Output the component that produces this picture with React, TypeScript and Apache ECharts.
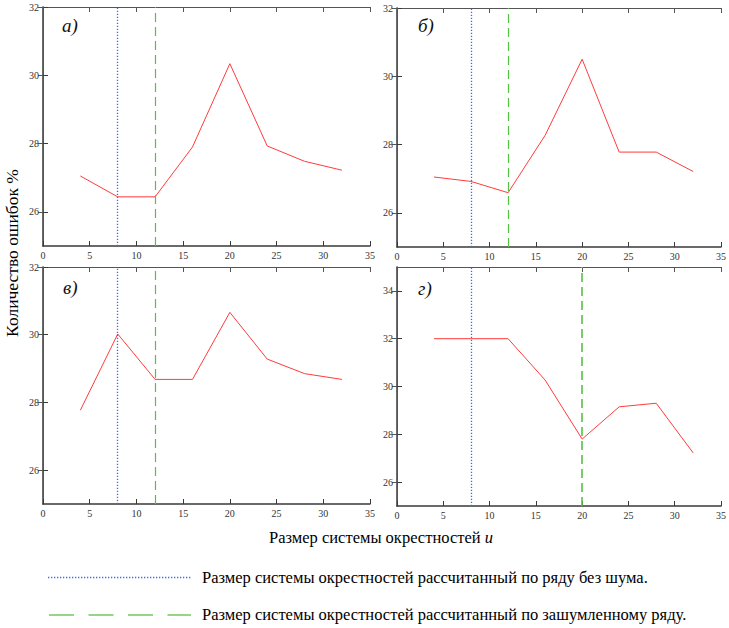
import React, { useEffect, useRef } from "react";
import * as echarts from "echarts";

// Размер системы окрестностей (x)
const sizes = [4, 8, 12, 16, 20, 24, 28, 32];
// Количество ошибок % for each panel
const errorsA = [27.05, 26.44, 26.44, 27.9, 30.34, 27.93, 27.48, 27.22];
const errorsB = [27.05, 26.92, 26.59, 28.27, 30.5, 27.78, 27.78, 27.21];
const errorsV = [27.77, 30.02, 28.68, 28.68, 30.66, 29.28, 28.85, 28.68];
const errorsG = [32.0, 32.0, 32.0, 30.27, 27.8, 29.15, 29.3, 27.22];
const panelLabels = ["а)", "б)", "в)", "г)"];
// sizes computed from clean / noisy series
const cleanSize = [8, 8, 8, 8];
const noisySize = [12, 12, 12, 20];
const yMins = [25, 25, 25, 25];
const yMaxs = [32, 32, 32, 35];
const yTicksA = [26, 28, 30, 32];
const yTicksG = [26, 28, 30, 32, 34];
const xTicks = [0, 5, 10, 15, 20, 25, 30, 35];
const xTitle = "Размер системы окрестностей ";
const xTitleVar = "u";
const yTitle = "Количество ошибок %";
const legendClean = "Размер системы окрестностей рассчитанный по ряду без шума.";
const legendNoisy = "Размер системы окрестностей рассчитанный по зашумленному ряду.";

const SERIF = "'Liberation Serif', 'Times New Roman', serif";
const RED = "#ff3b3b";
const BLUE = "#4169e1";
const GREEN = "#55c244";
const AXIS = "#3a3a3a";

const grids = [
  { left: 43, top: 7, width: 327, height: 239 },
  { left: 397, top: 8, width: 326, height: 239 },
  { left: 43, top: 267, width: 327, height: 237 },
  { left: 397, top: 267, width: 326, height: 239 },
];
const labelPos = [
  [62, 25],
  [418, 25],
  [63, 287],
  [418, 288],
];

export default function App() {
  const ref = useRef<HTMLDivElement>(null);
  useEffect(() => {
    if (!ref.current) return;
    const chart = echarts.init(ref.current, null, { renderer: "svg" });
    const data = [errorsA, errorsB, errorsV, errorsG];
    const xAxis: any[] = [];
    const yAxis: any[] = [];
    const series: any[] = [];
    data.forEach((vals, i) => {
      const yt = i === 3 ? yTicksG : yTicksA;
      xAxis.push({
        type: "value",
        gridIndex: i,
        min: xTicks[0],
        max: xTicks[xTicks.length - 1],
        interval: 5,
        position: "bottom",
        axisLine: { show: true, lineStyle: { color: AXIS, width: 1.5 } },
        axisTick: { show: true, inside: true, length: 5, lineStyle: { color: AXIS } },
        axisLabel: {
          show: true,
          fontSize: 10,
          fontFamily: SERIF,
          color: "#333",
          margin: 4,
          showMinLabel: true,
          showMaxLabel: true,
        },
        splitLine: { show: false },
      });
      xAxis.push({
        type: "value",
        gridIndex: i,
        min: xTicks[0],
        max: xTicks[xTicks.length - 1],
        interval: 5,
        position: "top",
        axisLine: { show: true, lineStyle: { color: "#555", width: 1 } },
        axisTick: { show: true, inside: true, length: 5, lineStyle: { color: "#555" } },
        axisLabel: { show: false },
        splitLine: { show: false },
      });
      yAxis.push({
        type: "value",
        gridIndex: i,
        min: yMins[i],
        max: yMaxs[i],
        position: "left",
        axisLine: { show: true, lineStyle: { color: AXIS, width: 1.5 } },
        axisTick: {
          show: true,
          inside: true,
          length: 5,
          customValues: yt,
          lineStyle: { color: AXIS },
        },
        axisLabel: {
          show: true,
          fontSize: 10,
          fontFamily: SERIF,
          color: "#333",
          margin: 4,
          customValues: yt,
        },
        splitLine: { show: false },
      });
      yAxis.push({
        type: "value",
        gridIndex: i,
        min: yMins[i],
        max: yMaxs[i],
        position: "right",
        axisLine: { show: true, lineStyle: { color: "#555", width: 1 } },
        axisTick: {
          show: true,
          inside: true,
          length: 5,
          customValues: yt,
          lineStyle: { color: "#555" },
        },
        axisLabel: { show: false, customValues: yt },
        splitLine: { show: false },
      });
      series.push({
        type: "line",
        xAxisIndex: 2 * i,
        yAxisIndex: 2 * i,
        data: sizes.map((x, j) => [x, vals[j]]),
        symbol: "none",
        lineStyle: { color: RED, width: 1 },
        z: 3,
        markLine: {
          silent: true,
          symbol: ["none", "none"],
          animation: false,
          label: { show: false },
          data: [
            {
              xAxis: cleanSize[i],
              lineStyle: { color: BLUE, width: 1.3, type: [1.3, 1.7] },
            },
            {
              xAxis: noisySize[i],
              lineStyle: { color: GREEN, width: i === 3 ? 1.6 : 1.2, type: [9, 5] },
            },
          ],
        },
      });
    });

    const graphic: any[] = [];
    panelLabels.forEach((t, i) => {
      graphic.push({
        type: "text",
        x: labelPos[i][0],
        y: labelPos[i][1],
        style: {
          text: t,
          fontFamily: SERIF,
          fontSize: 19,
          fontStyle: "italic",
          fill: "#111",
          textVerticalAlign: "middle",
        },
      });
    });
    graphic.push({
      type: "text",
      x: 12,
      y: 253,
      rotation: Math.PI / 2,
      style: {
        text: yTitle,
        fontFamily: SERIF,
        fontSize: 17.5,
        fill: "#000",
        textAlign: "center",
        textVerticalAlign: "middle",
      },
    });
    graphic.push({
      type: "text",
      x: 381,
      y: 537,
      style: {
        text: `{a|${xTitle}}{b|${xTitleVar}}`,
        textAlign: "center",
        textVerticalAlign: "middle",
        rich: {
          a: { fontFamily: SERIF, fontSize: 16.5, fill: "#000", color: "#000" },
          b: { fontFamily: SERIF, fontSize: 16.5, fontStyle: "italic", fill: "#000", color: "#000" },
        },
      },
    });
    graphic.push({
      type: "line",
      shape: { x1: 48, y1: 577.5, x2: 191, y2: 577.5 },
      style: { stroke: BLUE, lineWidth: 1.3, lineDash: [1.3, 1.7] },
    });
    graphic.push({
      type: "text",
      x: 202,
      y: 577,
      style: {
        text: legendClean,
        fontFamily: SERIF,
        fontSize: 16.5,
        fill: "#000",
        textVerticalAlign: "middle",
      },
    });
    graphic.push({
      type: "line",
      shape: { x1: 49, y1: 615, x2: 191, y2: 615 },
      style: { stroke: "#74c862", lineWidth: 1.6, lineDash: [25, 14.5] },
    });
    graphic.push({
      type: "text",
      x: 202,
      y: 614,
      style: {
        text: legendNoisy,
        fontFamily: SERIF,
        fontSize: 16.5,
        fill: "#000",
        textVerticalAlign: "middle",
      },
    });

    chart.setOption({
      animation: false,
      backgroundColor: "#fff",
      grid: grids.map((g) => ({ ...g, containLabel: false })),
      xAxis,
      yAxis,
      series,
      graphic,
    });
    return () => chart.dispose();
  }, []);
  return (
    <div
      ref={ref}
      style={{ position: "absolute", left: 0, top: 0, width: 729, height: 628 }}
    />
  );
}
